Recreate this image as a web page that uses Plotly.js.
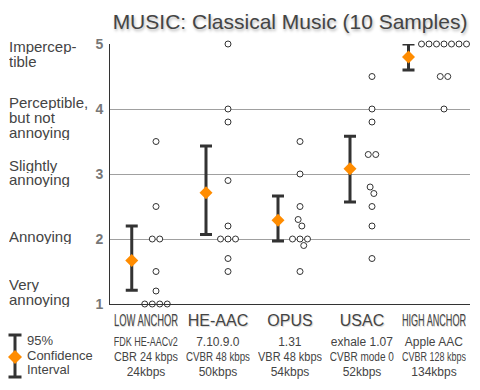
<!DOCTYPE html>
<html>
<head>
<meta charset="utf-8">
<script src="https://cdn.plot.ly/plotly-3.0.1.min.js"></script>
<style>
html,body{margin:0;padding:0;background:#fff;}
#chart{width:480px;height:390px;}
</style>
</head>
<body>
<div id="chart"></div>
<script>
// ---- data ----
const categories = ["LOW ANCHOR", "HE-AAC", "OPUS", "USAC", "HIGH ANCHOR"];
const encoderLines = ["FDK HE-AACv2", "7.10.9.0", "1.31", "exhale 1.07", "Apple AAC"];
const modeLines = ["CBR 24 kbps", "CVBR 48 kbps", "VBR 48 kbps", "CVBR mode 0", "CVBR 128 kbps"];
const bitrateLines = ["24kbps", "50kbps", "54kbps", "52kbps", "134kbps"];

const lowAnchorScores  = [3.5, 2.5, 2.0, 2.0, 1.5, 1.2, 1.0, 1.0, 1.0, 1.0];
const heAacScores      = [5.0, 4.0, 3.8, 2.9, 2.2, 2.0, 2.0, 2.0, 1.7, 1.5];
const opusScores       = [3.5, 3.0, 2.5, 2.3, 2.2, 2.0, 2.0, 2.0, 1.9, 1.5];
const usacScores       = [4.5, 4.0, 3.8, 3.3, 3.3, 2.8, 2.7, 2.5, 2.2, 1.7];
const highAnchorScores = [5.0, 5.0, 5.0, 5.0, 5.0, 5.0, 5.0, 4.5, 4.5, 4.0];

const ciUpper = [2.20, 3.43, 2.66, 3.58, 5.00];
const ciLower = [1.21, 2.07, 1.97, 2.57, 4.60];

const yTicks = [1, 2, 3, 4, 5];
const qualityLabels = [["Very", "annoying"], ["Annoying"], ["Slightly", "annoying"],
                       ["Perceptible,", "but not", "annoying"], ["Impercep-", "tible"]];
const legendLines = ["95%", "Confidence", "Interval"];

// ---- layout constants (pixels) ----
const W = 480, H = 390;
const M = {l: 110, r: 10, t: 44, b: 86};
const PW = W - M.l - M.r, PH = H - M.t - M.b;
const X_RANGE = [-0.5, 4.5], Y_RANGE = [1, 5];
const pxPerX = PW / (X_RANGE[1] - X_RANGE[0]);
const pxPerY = PH / (Y_RANGE[1] - Y_RANGE[0]);
const DOT_D = 7.5, DOT_SHIFT = 10, ERR_GAP = 13;
const qualityCenterPx = [291.5, 236, 172.5, 117, 54.5];
const LINE_PX = 15;
const COL_W = 64;
const px2px = x => (x - M.l) / PW;       // page px -> paper x
const py2py = y => (M.t + PH - y) / PH;  // page px -> paper y

const allScores = [lowAnchorScores, heAacScores, opusScores, usacScores, highAnchorScores];

// beeswarm: offsets (px) so that dots don't overlap
function swarm(values) {
  const order = values.map((v, i) => i).sort((a, b) => values[a] - values[b]);
  const placed = [];
  for (const i of order) {
    const y = values[i] * pxPerY;
    const cands = [0];
    for (const p of placed) {
      const dy = Math.abs(p.y - y);
      if (dy < DOT_D) {
        const dx = Math.sqrt(DOT_D * DOT_D - dy * dy);
        cands.push(p.x - dx, p.x + dx);
      }
    }
    cands.sort((a, b) => Math.abs(a) - Math.abs(b) || a - b);
    const x = cands.find(c => placed.every(p => Math.hypot(p.x - c, p.y - y) >= DOT_D - 1e-6));
    placed.push({i, x, y});
  }
  const n = placed.length, parent = placed.map((_, k) => k);
  const find = k => parent[k] === k ? k : (parent[k] = find(parent[k]));
  for (let a = 0; a < n; a++) for (let b = a + 1; b < n; b++)
    if (Math.hypot(placed[a].x - placed[b].x, placed[a].y - placed[b].y) < DOT_D + 0.5)
      parent[find(a)] = find(b);
  const groups = {};
  placed.forEach((p, k) => { const r = find(k); (groups[r] = groups[r] || []).push(p); });
  Object.values(groups).forEach(g => {
    const mn = Math.min(...g.map(p => p.x)), mx = Math.max(...g.map(p => p.x));
    const s = -(mn + mx) / 2;
    g.forEach(p => p.x += s);
  });
  const out = new Array(values.length);
  placed.forEach(p => out[p.i] = p.x);
  return out;
}

const dotX = [], dotY = [], meanX = [], means = [], errPlus = [], errMinus = [];
allScores.forEach((vals, ci) => {
  const offs = swarm(vals);
  vals.forEach((v, k) => { dotX.push(ci + (DOT_SHIFT + offs[k]) / pxPerX); dotY.push(v); });
  const m = vals.reduce((a, b) => a + b, 0) / vals.length;
  const errPx = Math.min(-12, DOT_SHIFT + Math.min(...offs) - ERR_GAP);
  meanX.push(ci + errPx / pxPerX);
  means.push(m);
  errPlus.push(ciUpper[ci] - m);
  errMinus.push(m - ciLower[ci]);
});

const traces = [
  {
    type: 'scatter', mode: 'markers', x: dotX, y: dotY, cliponaxis: false, hoverinfo: 'skip',
    marker: {symbol: 'circle', size: 6, color: '#ffffff', line: {color: '#333333', width: 1}}
  },
  {
    type: 'scatter', mode: 'markers', x: meanX, y: means, cliponaxis: false, hoverinfo: 'skip',
    marker: {symbol: 'diamond', size: 10, color: '#ff8c00', line: {width: 0}},
    error_y: {type: 'data', symmetric: false, array: errPlus, arrayminus: errMinus,
              color: '#333333', thickness: 3, width: 6}
  }
];

const FONT = 'Arial, "Liberation Sans", sans-serif';
const TXT = '#444444';
const annotations = [];
const compressIdx = [];

// quality labels at the left (one annotation per line for tight spacing)
qualityLabels.forEach((lines, qi) => {
  const c = qualityCenterPx[qi];
  lines.forEach((t, li) => {
    const y = c + (li - (lines.length - 1) / 2) * LINE_PX;
    annotations.push({text: t, xref: 'paper', yref: 'paper', x: px2px(9), y: py2py(y),
      xanchor: 'left', yanchor: 'middle', showarrow: false, borderpad: 0, borderwidth: 0,
      height: LINE_PX, font: {family: FONT, size: 15, color: TXT}});
  });
});

// category labels below the axis
const rowPx = [320, 342, 357, 372];
categories.forEach((cat, ci) => {
  const rows = [
    {t: cat, size: 16, h: 18, shadow: '1px 1px 1px rgba(0,0,0,0.18)'},
    {t: encoderLines[ci], size: 12, h: 14},
    {t: modeLines[ci], size: 12, h: 14},
    {t: bitrateLines[ci], size: 12, h: 14}
  ];
  rows.forEach((r, ri) => {
    compressIdx.push(annotations.length);
    const f = {family: FONT, size: r.size, color: TXT};
    if (r.shadow) f.shadow = r.shadow;
    annotations.push({text: r.t, xref: 'x', yref: 'paper', x: ci, y: py2py(rowPx[ri]),
      xanchor: 'center', yanchor: 'middle', showarrow: false, borderpad: 0, borderwidth: 0,
      width: COL_W, height: r.h, font: f});
  });
});

// legend text
const legendRowPx = [340, 354.5, 369];
legendLines.forEach((t, li) => {
  annotations.push({text: t, xref: 'paper', yref: 'paper', x: px2px(27), y: py2py(legendRowPx[li]),
    xanchor: 'left', yanchor: 'middle', showarrow: false, borderpad: 0, borderwidth: 0,
    height: 14, font: {family: FONT, size: 13, color: TXT}});
});

// legend icon (error bar + diamond)
const LX = 15, LT = 335, LB = 377, LC = 357, CAP = 6.5, DH = 7;
const shapes = [
  {type: 'line', xref: 'paper', yref: 'paper', x0: px2px(LX), x1: px2px(LX), y0: py2py(LT), y1: py2py(LB), line: {color: '#333', width: 3}},
  {type: 'line', xref: 'paper', yref: 'paper', x0: px2px(LX - CAP), x1: px2px(LX + CAP), y0: py2py(LT), y1: py2py(LT), line: {color: '#333', width: 3}},
  {type: 'line', xref: 'paper', yref: 'paper', x0: px2px(LX - CAP), x1: px2px(LX + CAP), y0: py2py(LB), y1: py2py(LB), line: {color: '#333', width: 3}},
  {type: 'path', xref: 'paper', yref: 'paper', fillcolor: '#ff8c00', line: {width: 0},
   path: `M ${px2px(LX)} ${py2py(LC - DH)} L ${px2px(LX + DH)} ${py2py(LC)} L ${px2px(LX)} ${py2py(LC + DH)} L ${px2px(LX - DH)} ${py2py(LC)} Z`}
];

const layout = {
  width: W, height: H, margin: M, autosize: false,
  paper_bgcolor: '#ffffff', plot_bgcolor: '#ffffff',
  font: {family: FONT, color: TXT},
  showlegend: false,
  title: {text: 'MUSIC: Classical Music (10 Samples)', x: 0.5, xref: 'paper', xanchor: 'center',
          y: 1 - 22 / H, yref: 'container', yanchor: 'middle',
          font: {family: FONT, size: 21, color: TXT, shadow: '1px 2px 3px rgba(0,0,0,0.3)'}},
  xaxis: {range: X_RANGE, showgrid: false, zeroline: false, showline: true, linecolor: '#333333',
          linewidth: 1, showticklabels: false, ticks: '', fixedrange: true},
  yaxis: {range: Y_RANGE, tickvals: yTicks, ticktext: yTicks.map(String), showgrid: true,
          gridcolor: '#a0a0a0', gridwidth: 1, zeroline: false, showline: true, linecolor: '#333333',
          linewidth: 1, ticks: '', ticklabelstandoff: 3, fixedrange: true,
          tickfont: {family: FONT, size: 14, color: '#777777', weight: 'bold'}},
  annotations: annotations,
  shapes: shapes
};

Plotly.newPlot('chart', traces, layout, {staticPlot: true, displayModeBar: false, responsive: false}).then(gd => {
  compressIdx.forEach(i => {
    const el = gd.querySelector(`.annotation[data-index="${i}"] text.annotation-text`);
    if (!el) return;
    const len = el.getComputedTextLength();
    if (len > COL_W) {
      el.setAttribute('textLength', COL_W);
      el.setAttribute('lengthAdjust', 'spacingAndGlyphs');
    }
  });
});
</script>
</body>
</html>
